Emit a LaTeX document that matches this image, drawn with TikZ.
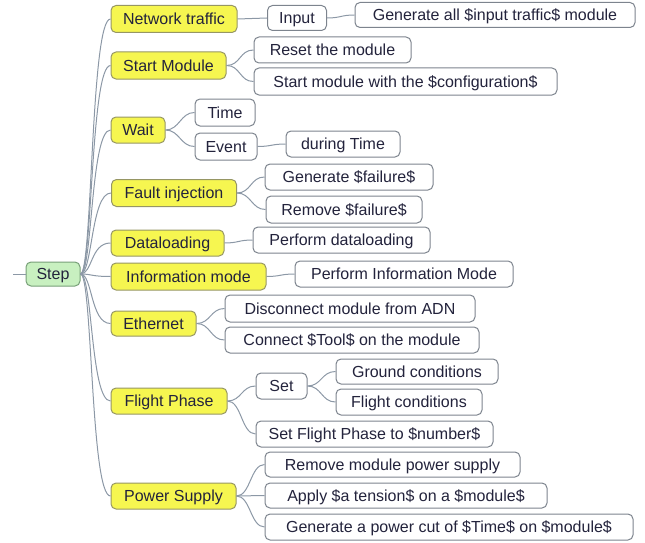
\documentclass[tikz,border=0pt]{standalone}
\usepackage{fontspec}
\setmainfont{Liberation Sans}
\usepackage{xcolor}
\usepackage{tikz}
\usetikzlibrary{shapes,calc}
\definecolor{stepGreen}{RGB}{200,240,192}
\definecolor{stepBorder}{RGB}{120,160,120}
\definecolor{branchYellow}{RGB}{246,246,80}
\definecolor{branchBorder}{RGB}{150,150,100}
\definecolor{leafBorder}{RGB}{125,132,142}
\definecolor{linkGray}{RGB}{140,152,166}
\definecolor{textDark}{RGB}{35,35,60}
\tikzstyle{tsText} = [
    text=textDark,
    font=\fontsize{16}{19}\selectfont,
    text height=14.5pt,
    text depth=3pt,
    inner sep=0pt
]
\tikzstyle{tsBox} = [
    rectangle,
    tsText,
    text centered,
    rounded corners=5pt,
    line width=1pt
]
\tikzstyle{tsStep} = [
    tsBox,
    draw=stepBorder,
    fill=stepGreen
]
\tikzstyle{tsBranch} = [
    tsBox,
    draw=branchBorder,
    fill=branchYellow
]
\tikzstyle{tsLeaf} = [
    tsBox,
    draw=leafBorder,
    fill=white
]
\tikzstyle{tsLink} = [
    draw=linkGray,
    line width=1pt
]

\begin{document}
\begin{tikzpicture}[x=1pt, y=-1pt]

    \useasboundingbox (0,0) rectangle (645,543);

    % root
    \coordinate (entry) at (13,274);
    \node[tsStep, minimum width=54, minimum height=24] (step) at (53,274) {Step};

    % first level
    \node[tsBranch, minimum width=126, minimum height=27] (network) at (174,19) {Network traffic};
    \node[tsBranch, minimum width=115, minimum height=27] (start) at (168.5,65.5) {Start Module};
    \node[tsBranch, minimum width=54, minimum height=26] (wait) at (138,130) {Wait};
    \node[tsBranch, minimum width=125, minimum height=27] (fault) at (174,193) {Fault injection};
    \node[tsBranch, minimum width=113, minimum height=26] (dataload) at (167.5,243) {Dataloading};
    \node[tsBranch, minimum width=155, minimum height=27] (infomode) at (188.5,276.5) {Information mode};
    \node[tsBranch, minimum width=85, minimum height=25] (ethernet) at (153.5,323.5) {Ethernet};
    \node[tsBranch, minimum width=116, minimum height=26] (flight) at (169,401) {Flight Phase};
    \node[tsBranch, minimum width=125, minimum height=26] (power) at (173.5,496) {Power Supply};

    % network traffic
    \node[tsLeaf, minimum width=59, minimum height=25] (input) at (297,18) {Input};
    \node[tsLeaf, minimum width=280, minimum height=25] (geninput) at (495,15) {Generate all \$input traffic\$ module};

    % start module
    \node[tsLeaf, minimum width=157, minimum height=26] (reset) at (332.5,50) {Reset the module};
    \node[tsLeaf, minimum width=303, minimum height=27] (startconf) at (405.5,81.5) {Start module with the \$configuration\$};

    % wait
    \node[tsLeaf, minimum width=60, minimum height=27] (time) at (225,112.5) {Time};
    \node[tsLeaf, minimum width=62, minimum height=27] (event) at (226,146.5) {Event};
    \node[tsLeaf, minimum width=114, minimum height=26] (during) at (343,144) {during Time};

    % fault injection
    \node[tsLeaf, minimum width=168, minimum height=26] (genfail) at (349,177) {Generate \$failure\$};
    \node[tsLeaf, minimum width=156, minimum height=27] (remfail) at (344,209.5) {Remove \$failure\$};

    % dataloading, information mode
    \node[tsLeaf, minimum width=177, minimum height=26] (perfdata) at (341.5,240) {Perform dataloading};
    \node[tsLeaf, minimum width=218, minimum height=26] (perfinfo) at (404,274) {Perform Information Mode};

    % ethernet
    \node[tsLeaf, minimum width=250, minimum height=27] (disconnect) at (350,308.5) {Disconnect module from ADN};
    \node[tsLeaf, minimum width=254, minimum height=26] (connect) at (352,340) {Connect \$Tool\$ on the module};

    % flight phase
    \node[tsLeaf, minimum width=51, minimum height=26] (set) at (281.5,386) {Set};
    \node[tsLeaf, minimum width=162, minimum height=25] (ground) at (417,371.5) {Ground conditions};
    \node[tsLeaf, minimum width=146, minimum height=26] (flightcond) at (409,402) {Flight conditions};
    \node[tsLeaf, minimum width=237, minimum height=26] (setflight) at (374.5,434) {Set Flight Phase to \$number\$};

    % power supply
    \node[tsLeaf, minimum width=255, minimum height=25] (rempower) at (392.5,464.5) {Remove module power supply};
    \node[tsLeaf, minimum width=282, minimum height=25] (tension) at (406,495.5) {Apply \$a tension\$ on a \$module\$};
    \node[tsLeaf, minimum width=368, minimum height=26] (powercut) at (449,527) {Generate a power cut of \$Time\$ on \$module\$};

    % links
    \draw[tsLink] (entry) -- (step.west);
    \foreach \b in {network,start,wait,fault,dataload,infomode,ethernet,flight,power}
        \draw[tsLink] (step.east) .. controls +(12,0) and +(-20,0) .. (\b.west);

    \foreach \p/\c in {network/input, input/geninput,
                       start/reset, start/startconf,
                       wait/time, wait/event, event/during,
                       fault/genfail, fault/remfail,
                       dataload/perfdata, infomode/perfinfo,
                       ethernet/disconnect, ethernet/connect,
                       flight/set, flight/setflight,
                       set/ground, set/flightcond,
                       power/rempower, power/tension, power/powercut}
        \draw[tsLink] (\p.east) .. controls +(14,0) and +(-14,0) .. (\c.west);

\end{tikzpicture}
\end{document}
